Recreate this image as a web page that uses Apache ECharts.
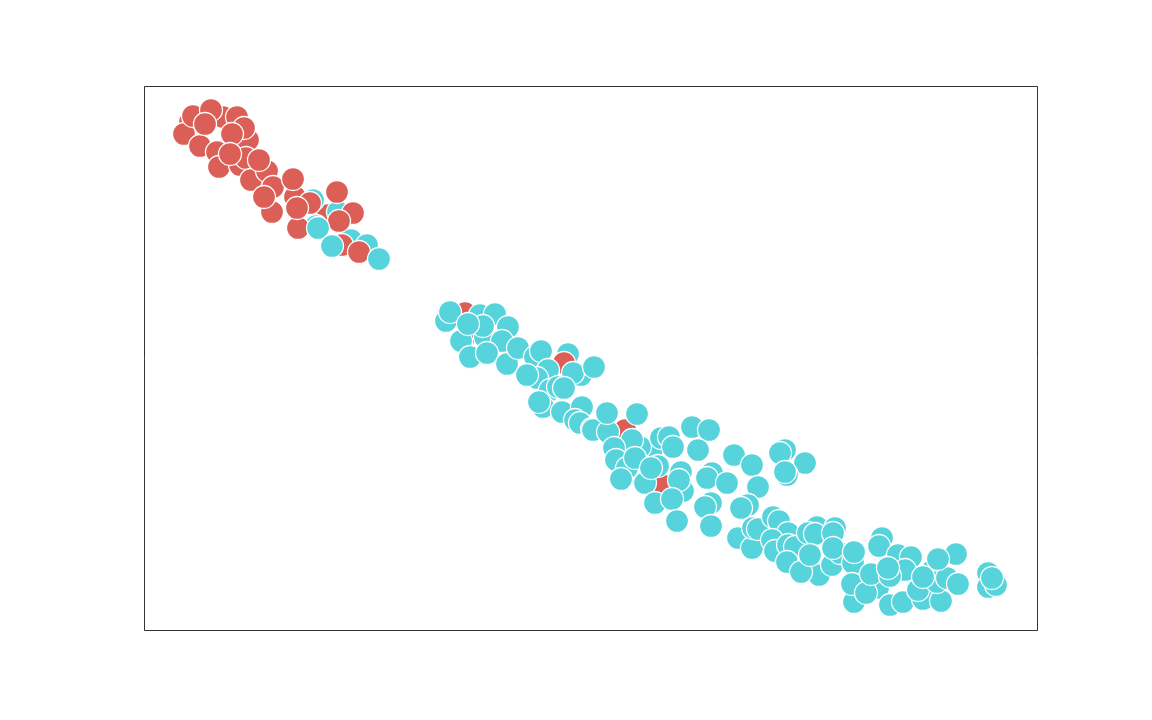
<!DOCTYPE html>
<html><head><meta charset="utf-8">
<style>html,body{margin:0;padding:0;background:#fff}#c{width:1152px;height:720px}</style>
<script src="https://cdn.jsdelivr.net/npm/echarts@6/dist/echarts.min.js"></script>
</head><body><div id="c"></div>
<script>
const redBack = [[328,215]];
const tealBack = [[313,200],[338,212],[351,240],[367,245],[316,226],[568,354]];
const redMid = [[223,117],[190,122],[184,134],[193,116],[211,110],[237,117],[248,140],[244,128],[200,146],[217,152],[205,124],[219,167],[240,165],[246,158],[232,134],[230,154],[251,180],[267,171],[259,160],[273,187],[272,212],[295,197],[293,179],[264,197],[298,228],[310,203],[297,208],[337,192],[353,213],[342,245],[359,252],[339,221],[465,313],[471,332],[564,363],[625,430],[662,485]];
const tealTop = [[446,321],[450,312],[480,315],[495,314],[508,327],[461,341],[485,337],[502,341],[483,326],[470,357],[487,353],[468,324],[507,364],[518,348],[535,357],[541,351],[548,370],[537,378],[527,375],[581,375],[573,373],[594,367],[550,390],[558,387],[564,388],[543,407],[539,402],[562,412],[582,407],[575,420],[580,423],[592,429],[593,430],[608,432],[607,413],[637,414],[652,450],[640,447],[632,440],[614,448],[616,460],[627,468],[635,458],[621,479],[645,483],[658,466],[651,468],[661,438],[669,437],[673,447],[692,427],[709,430],[698,450],[681,472],[683,491],[679,480],[655,503],[672,499],[677,521],[712,473],[707,478],[727,483],[711,503],[705,507],[711,526],[734,455],[752,465],[758,487],[748,505],[741,508],[785,450],[780,453],[805,463],[787,475],[785,472],[738,538],[752,548],[753,528],[758,529],[773,517],[779,521],[788,533],[772,540],[775,551],[788,545],[795,547],[787,562],[819,575],[801,572],[832,565],[840,553],[817,527],[808,533],[815,534],[810,555],[835,528],[833,533],[833,548],[853,563],[854,552],[854,602],[852,584],[878,588],[866,593],[871,574],[882,538],[879,546],[898,555],[911,557],[905,570],[890,576],[888,568],[890,605],[903,602],[923,599],[918,590],[941,601],[933,570],[937,582],[947,578],[958,584],[956,554],[938,559],[923,577],[988,573],[988,587],[996,585],[992,578],[318,228],[332,246],[379,259]];
const xRange = [144.5,1037.5];
const yRange = [86.5,630.5];
const layers = [[redBack,'#db5f57'],[tealBack,'#57d3db'],[redMid,'#db5f57'],[tealTop,'#57d3db']];
const chart = echarts.init(document.getElementById('c'),null,{renderer:'canvas'});
chart.setOption({
  animation:false,
  backgroundColor:'#fff',
  grid:{left:144.5,top:86.5,width:893,height:544,show:true,borderColor:'#000',borderWidth:0.8,backgroundColor:'transparent'},
  xAxis:{type:'value',min:xRange[0],max:xRange[1],show:false},
  yAxis:{type:'value',min:yRange[0],max:yRange[1],inverse:true,show:false},
  series:layers.map(([pts,color],i)=>({
    type:'scatter',data:pts,symbol:'circle',symbolSize:23,z:2+i,clip:false,
    itemStyle:{color:color,opacity:1,borderColor:'#fff',borderWidth:1.3},
    emphasis:{disabled:true}
  }))
});
</script></body></html>
